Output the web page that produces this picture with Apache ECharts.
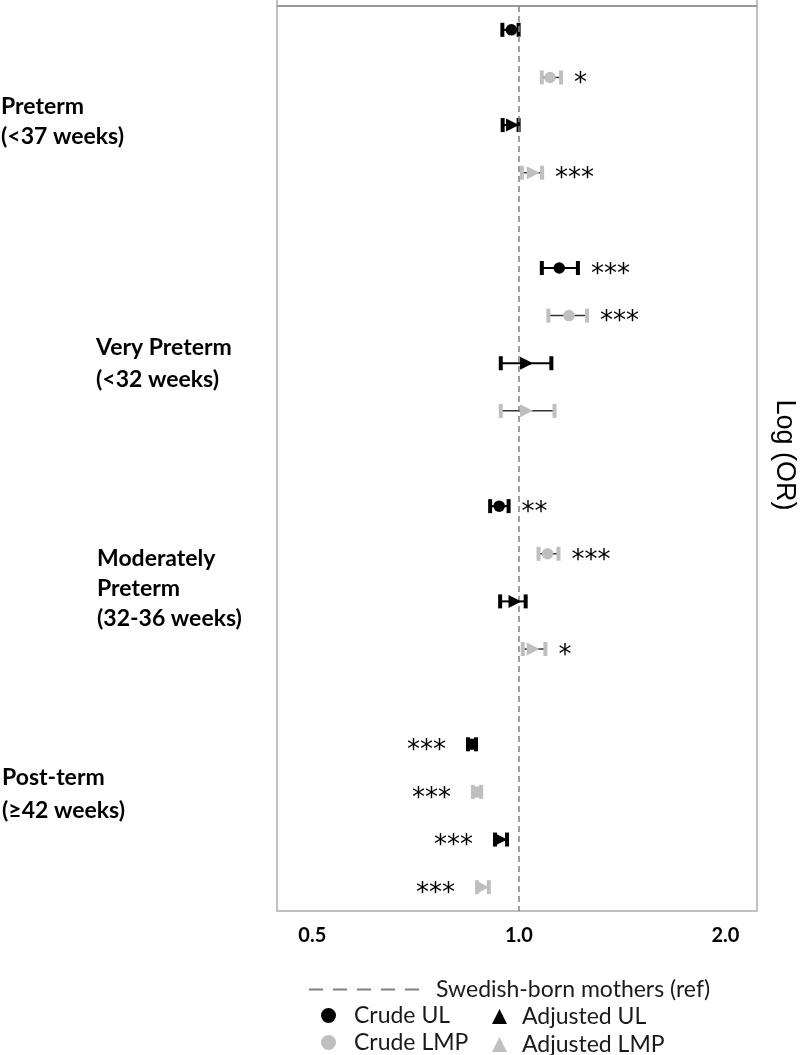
<!DOCTYPE html>
<html>
<head>
<meta charset="utf-8">
<script src="https://cdn.jsdelivr.net/npm/echarts@6/dist/echarts.min.js"></script>
<style>
html,body{margin:0;padding:0;background:#fff;}
#chart{width:800px;height:1055px;}
</style>
</head>
<body>
<div id="chart"></div>
<script>
// ---- data ----
const categories = [
  'PT Crude UL','PT Crude LMP','PT Adjusted UL','PT Adjusted LMP','gap1',
  'VPT Crude UL','VPT Crude LMP','VPT Adjusted UL','VPT Adjusted LMP','gap2',
  'MPT Crude UL','MPT Crude LMP','MPT Adjusted UL','MPT Adjusted LMP','gap3',
  'Post Crude UL','Post Crude LMP','Post Adjusted UL','Post Adjusted LMP'
];
const rowCategory = [
  'PT Crude UL','PT Crude LMP','PT Adjusted UL','PT Adjusted LMP',
  'VPT Crude UL','VPT Crude LMP','VPT Adjusted UL','VPT Adjusted LMP',
  'MPT Crude UL','MPT Crude LMP','MPT Adjusted UL','MPT Adjusted LMP',
  'Post Crude UL','Post Crude LMP','Post Adjusted UL','Post Adjusted LMP'
];
const rowType = [
  'Crude UL','Crude LMP','Adjusted UL','Adjusted LMP',
  'Crude UL','Crude LMP','Adjusted UL','Adjusted LMP',
  'Crude UL','Crude LMP','Adjusted UL','Adjusted LMP',
  'Crude UL','Crude LMP','Adjusted UL','Adjusted LMP'
];
const orValue = [0.975,1.110,0.979,1.049, 1.145,1.183,1.026,1.026, 0.936,1.101,0.987,1.049, 0.854,0.869,0.941,0.886];
const ciLower = [0.946,1.080,0.947,1.010, 1.080,1.104,0.941,0.941, 0.908,1.068,0.939,1.013, 0.843,0.857,0.923,0.869];
const ciUpper = [0.999,1.152,0.999,1.081, 1.219,1.257,1.115,1.127, 0.966,1.142,1.023,1.093, 0.866,0.881,0.961,0.904];
const signif  = ['','*','','***', '***','***','','', '**','***','','*', '***','***','***','***'];
const signifSide = ['r','r','r','r', 'r','r','r','r', 'r','r','r','r', 'l','l','l','l'];
const tickValues = [0.5, 1, 2];
const tickLabels = ['0.5', '1.0', '2.0'];
const refValue = 1;
const seriesNames = ['Crude UL','Crude LMP','Adjusted UL','Adjusted LMP'];
const refName = 'Swedish-born mothers (ref)';
const groupLabels = [
  'Preterm\n(<37 weeks)',
  'Very Preterm\n(<32 weeks)',
  'Moderately\nPreterm\n(32-36 weeks)',
  'Post-term\n(≥42 weeks)'
];
const axisTitle = 'Log (OR)';

// ---- styles ----
const BLACK = '#000000', GREY = '#bfbfbf';
const colorOf = t => t.indexOf('LMP') >= 0 ? GREY : BLACK;
const symbolOf = t => t.indexOf('Crude') === 0 ? 'circle' : 'triangle';
const FONT = 'Lato, "Open Sans", sans-serif';

const chart = echarts.init(document.getElementById('chart'), null, {renderer: 'canvas'});

const whiskerData = rowCategory.map((c, i) => [ciLower[i], ciUpper[i], categories.indexOf(c), i]);

const pointSeries = seriesNames.map(name => ({
  name: name,
  type: 'scatter',
  z: 5,
  symbol: symbolOf(name),
  symbolRotate: symbolOf(name) === 'triangle' ? -90 : 0,
  symbolSize: symbolOf(name) === 'triangle' ? 13 : 11.5,
  itemStyle: {color: colorOf(name), opacity: 1},
  silent: true,
  data: rowCategory.map((c, i) => rowType[i] === name ? [orValue[i], c] : null).filter(d => d)
}));

const legendText = {fontSize: 23, color: '#1a1a1a', fontFamily: FONT};
function itemLegend(name, icon, left, top, pad) {
  return {
    data: [{name: name, icon: icon}], left: left, top: top, itemWidth: 15, itemHeight: 15, symbolRotate: 0,
    textStyle: Object.assign({}, legendText, {padding: [0, 0, 0, pad]})
  };
}

const option = {
  animation: false,
  backgroundColor: '#fff',
  grid: {left: 277, right: 43, top: 6, bottom: 144, show: true, borderColor: '#c0c0c0', borderWidth: 2, backgroundColor: 'transparent'},
  xAxis: {
    type: 'log', logBase: 2, min: 0.4441, max: 2.2232,
    axisLine: {show: false}, axisTick: {show: false}, splitLine: {show: false},
    axisLabel: {
      margin: 15, fontSize: 20, fontWeight: 'bold', color: '#000', fontFamily: FONT,
      formatter: v => {
        for (let k = 0; k < tickValues.length; k++) if (Math.abs(v - tickValues[k]) < 1e-6) return tickLabels[k];
        return '';
      }
    }
  },
  yAxis: {
    type: 'category', data: categories, inverse: true,
    axisLine: {show: false}, axisTick: {show: false}, axisLabel: {show: false}, splitLine: {show: false}
  },
  legend: [
    {
      data: [{name: refName, itemStyle: {opacity: 0}}], left: 303, top: 973, itemWidth: 114, itemHeight: 14,
      textStyle: Object.assign({}, legendText, {padding: [0, 0, 0, 8]})
    },
    itemLegend('Crude UL', 'circle', 316, 999, 13),
    itemLegend('Crude LMP', 'circle', 316, 1026, 13),
    itemLegend('Adjusted UL', 'triangle', 487, 1000, 10),
    itemLegend('Adjusted LMP', 'triangle', 487, 1028, 10)
  ],
  graphic: [
    {type: 'line', shape: {x1: 277, y1: 6, x2: 757, y2: 6}, style: {stroke: '#8c8c8c', lineWidth: 1.5}, z: 10},
    {type: 'line', shape: {x1: 277, y1: 0, x2: 277, y2: 6}, style: {stroke: '#c0c0c0', lineWidth: 2}},
    {type: 'line', shape: {x1: 757, y1: 0, x2: 757, y2: 6}, style: {stroke: '#c0c0c0', lineWidth: 2}},
    {type: 'text', left: 1, top: 92, style: {text: groupLabels[0], font: 'bold 23px ' + FONT, lineHeight: 30, fill: '#000'}},
    {type: 'text', left: 96, top: 332, style: {text: groupLabels[1], font: 'bold 23px ' + FONT, lineHeight: 32, fill: '#000'}},
    {type: 'text', left: 97, top: 544, style: {text: groupLabels[2], font: 'bold 23px ' + FONT, lineHeight: 30, fill: '#000'}},
    {type: 'text', left: 2, top: 761, style: {text: groupLabels[3], font: 'bold 23px ' + FONT, lineHeight: 33, fill: '#000'}},
    {type: 'text', x: 784, y: 455, rotation: -Math.PI / 2,
      style: {text: axisTitle, font: '27px "Liberation Sans", Arial, sans-serif', fill: '#000', align: 'center', verticalAlign: 'middle'}}
  ],
  series: [
    {
      name: refName, type: 'line', data: [], symbol: 'none', showSymbol: false,
      itemStyle: {color: 'rgba(0,0,0,0)'},
      lineStyle: {type: [14, 10], width: 3.5, color: '#808080'},
      markLine: {
        silent: true, symbol: 'none', label: {show: false},
        lineStyle: {type: [6, 4], width: 1.5, color: '#808080'},
        data: [{xAxis: refValue}]
      }
    },
    {
      name: 'CI', type: 'custom', z: 3, silent: true,
      encode: {x: [0, 1], y: 2},
      data: whiskerData,
      renderItem: (params, api) => {
        const lo = api.value(0), hi = api.value(1), cat = api.value(2), idx = api.value(3);
        const p1 = api.coord([lo, cat]);
        const p2 = api.coord([hi, cat]);
        const t = rowType[idx];
        const lmp = t.indexOf('LMP') >= 0;
        const capColor = lmp ? GREY : BLACK;
        const lineColor = lmp ? '#333' : BLACK;
        const capH = 14, capW = 4;
        const children = [
          {type: 'line', shape: {x1: p1[0], y1: p1[1], x2: p2[0], y2: p2[1]}, style: {stroke: lineColor, lineWidth: lmp ? 1.5 : 2}},
          {type: 'rect', shape: {x: p1[0] - capW / 2, y: p1[1] - capH / 2, width: capW, height: capH}, style: {fill: capColor}},
          {type: 'rect', shape: {x: p2[0] - capW / 2, y: p2[1] - capH / 2, width: capW, height: capH}, style: {fill: capColor}}
        ];
        const s = signif[idx];
        if (s) {
          const right = signifSide[idx] === 'r';
          children.push({
            type: 'text',
            x: right ? p2[0] + 13 : p1[0] - 22,
            y: p1[1] + 7,
            style: {text: s, font: '26px "DejaVu Sans", sans-serif', fill: '#000', align: right ? 'left' : 'right', verticalAlign: 'middle'}
          });
        }
        return {type: 'group', children: children};
      }
    }
  ].concat(pointSeries)
};
chart.setOption(option);
</script>
</body>
</html>
